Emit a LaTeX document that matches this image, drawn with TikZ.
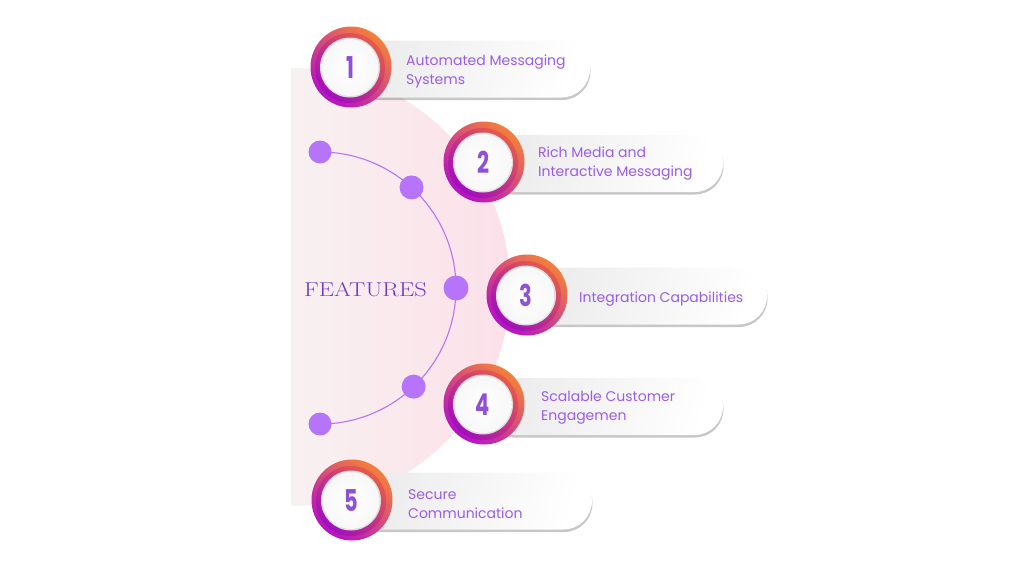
\documentclass[tikz,border=0pt]{standalone}
\usepackage{fontspec}
\newfontfamily\cardfont{Poppins}
\newfontfamily\numfont{Poppins}
\usetikzlibrary{shadows,shadings,calc}
\definecolor{txtpurple}{HTML}{9B5DE5}
\definecolor{numpurple}{HTML}{8E4FD9}
\definecolor{dotpurple}{HTML}{B574F9}
\definecolor{featpurple}{HTML}{7439C0}
\definecolor{ringorange}{HTML}{F3803A}
\definecolor{ringmag}{HTML}{B512C4}
\definecolor{ringorange2}{HTML}{E85A48}
\definecolor{ringmag2}{HTML}{A00EBE}
\definecolor{pinkL}{HTML}{F8F1F1}
\definecolor{pinkR}{HTML}{FCE0E9}
\definecolor{cardgray}{HTML}{EBEBEB}
\tikzset{
  card/.style={rounded corners=28.5pt, minimum width=240pt, minimum height=57pt,
    left color=cardgray, right color=white, shading angle=75,
    drop shadow={shadow xshift=0.5pt, shadow yshift=-2.5pt, opacity=0.22, fill=black}},
  outerring/.style={circle, minimum size=81pt, inner sep=0pt,
    top color=ringorange, bottom color=ringmag, shading angle=-40},
  innerring/.style={circle, minimum size=70pt, inner sep=0pt,
    top color=ringorange2, bottom color=ringmag2, shading angle=-40},
  rim/.style={circle, minimum size=60pt, inner sep=0pt, fill=black!13},
  disc/.style={circle, minimum size=57pt, inner sep=0pt, inner color=white, outer color=black!3},
  numlbl/.style={text=numpurple, font=\numfont\bfseries\fontsize{30}{30}\selectfont},
  cardtext/.style={anchor=west, align=left, text=txtpurple, inner sep=0pt,
    font=\cardfont\fontsize{14}{19}\selectfont},
  dot/.style={circle, fill=dotpurple, inner sep=0pt, minimum size=#1},
  arcline/.style={draw=dotpurple, line width=1.1pt}
}
\newcommand{\badge}[4]{%
  \node[outerring] (#1) at (#2,#3) {};
  \node[innerring] at ($(#1.center)+(-1,1)$) {};
  \node[rim] at ($(#1.center)+(-1,0.5)$) {};
  \node[disc] at ($(#1.center)+(-1,0.5)$) {};
  \node[numlbl] (#1num) at ($(#1.center)+(-1,0.5)$) {\scalebox{0.7}[1]{#4}};
}
\begin{document}
\begin{tikzpicture}[x=1pt,y=-1pt]
\useasboundingbox[fill=white] (0,0) rectangle (1024,576);
% pink half disc
\shade[left color=pinkL, right color=pinkR] (291,68) arc[start angle=-90, end angle=90, radius=219] -- cycle;
% arc with dots
\coordinate (arccenter) at (320,288);
\draw[arcline] (320,152) arc[start angle=-90, end angle=90, radius=136];
\node[dot=23pt] (d1) at (320,152) {};
\node[dot=24pt] (d2) at ($(arccenter)+(-47.7:136)$) {};
\node[dot=25pt] (d3) at (456,288) {};
\node[dot=24pt] (d4) at ($(arccenter)+(46.5:136)$) {};
\node[dot=23pt] (d5) at (320,424) {};
\node[text=featpurple, font=\fontsize{20}{24}\selectfont] (feat) at (365.5,290) {\scalebox{1.22}[1]{FEATURES}};
% cards
\node[card] (c1) at (470,69) {};
\node[card] (c2) at (603,163.5) {};
\node[card, minimum width=241pt] (c3) at (646.5,296) {};
\node[card] (c4) at (603,406.5) {};
\node[card, minimum width=242pt] (c5) at (471,501) {};
% badges
\badge{b1}{351}{67}{1}
\badge{b2}{484}{162}{2}
\badge{b3}{527}{295}{3}
\badge{b4}{484}{404}{4}
\badge{b5}{352}{500}{5}
% texts
\node[cardtext] (t1) at (406,71) {Automated Messaging\\Systems};
\node[cardtext] (t2) at (538,164) {Rich Media and\\Interactive Messaging};
\node[cardtext] (t3) at (579,299) {Integration Capabilities};
\node[cardtext] (t4) at (541,408) {Scalable Customer\\Engagemen};
\node[cardtext] (t5) at (408,504) {Secure\\Communication};
\end{tikzpicture}
\end{document}
